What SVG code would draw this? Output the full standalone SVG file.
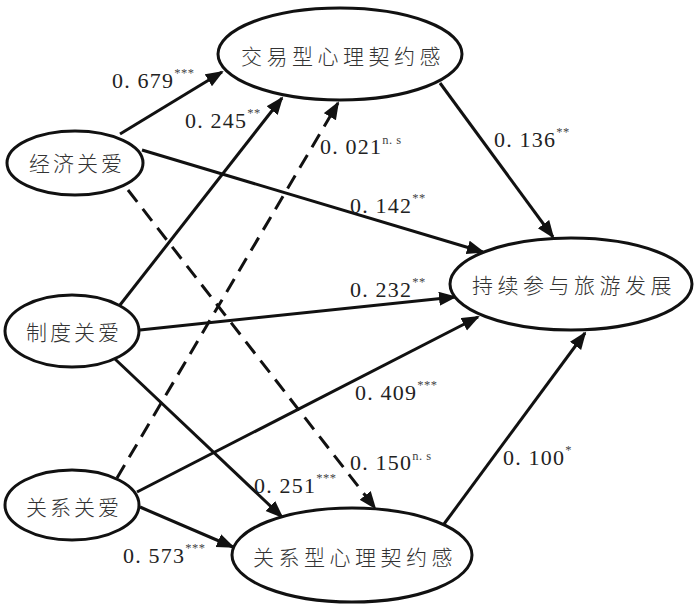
<svg xmlns="http://www.w3.org/2000/svg" width="700" height="612" viewBox="0 0 700 612">
<defs>
<marker id="ah" markerUnits="userSpaceOnUse" markerWidth="20" markerHeight="16" refX="16" refY="7" orient="auto">
<path d="M0,0 L18,7 L0,14 z" fill="#111"/>
</marker>
<style>
.node ellipse{fill:#fff;stroke:#111;stroke-width:3}
.node text{font-family:"Noto Sans CJK SC","Noto Sans CJK JP",sans-serif;font-size:21px;fill:#333;text-anchor:middle;font-weight:300}
.c{stroke:#111;stroke-width:3;fill:none}
.d{stroke-dasharray:15 9}
.lbl{font-family:"Liberation Serif","Times New Roman",serif;font-size:22px;fill:#222;letter-spacing:1.2px}
.sup{font-size:12.5px;fill:#444;letter-spacing:0.5px}
</style>
</defs>
<rect width="700" height="612" fill="#fff"/>
<g id="connectors">
<line class="c" x1="120" y1="134" x2="222" y2="72" marker-end="url(#ah)"/>
<line class="c" x1="120" y1="305" x2="282" y2="98" marker-end="url(#ah)"/>
<line class="c d" x1="117" y1="478" x2="338" y2="103" marker-end="url(#ah)"/>
<line class="c d" x1="128" y1="190" x2="375" y2="508" marker-end="url(#ah)"/>
<line class="c" x1="142" y1="150" x2="483" y2="252" marker-end="url(#ah)"/>
<line class="c" x1="140" y1="330" x2="455" y2="297" marker-end="url(#ah)"/>
<line class="c" x1="137" y1="492" x2="478" y2="317" marker-end="url(#ah)"/>
<line class="c" x1="115" y1="359" x2="282" y2="517" marker-end="url(#ah)"/>
<line class="c" x1="140" y1="507" x2="233" y2="547" marker-end="url(#ah)"/>
<line class="c" x1="440" y1="83" x2="553" y2="237" marker-end="url(#ah)"/>
<line class="c" x1="444" y1="524" x2="585" y2="333" marker-end="url(#ah)"/>
</g>
<g id="labels">
<text class="lbl" x="112" y="88">0. 679<tspan class="sup" dy="-11">***</tspan></text>
<text class="lbl" x="185" y="128">0. 245<tspan class="sup" dy="-11">**</tspan></text>
<text class="lbl" x="320" y="154">0. 021<tspan class="sup" dy="-10">n. s</tspan></text>
<text class="lbl" x="494" y="147">0. 136<tspan class="sup" dy="-11">**</tspan></text>
<text class="lbl" x="350" y="213">0. 142<tspan class="sup" dy="-11">**</tspan></text>
<text class="lbl" x="350" y="297">0. 232<tspan class="sup" dy="-11">**</tspan></text>
<text class="lbl" x="355" y="400">0. 409<tspan class="sup" dy="-11">***</tspan></text>
<text class="lbl" x="350" y="470">0. 150<tspan class="sup" dy="-10">n. s</tspan></text>
<text class="lbl" x="254" y="493">0. 251<tspan class="sup" dy="-11">***</tspan></text>
<text class="lbl" x="503" y="465">0. 100<tspan class="sup" dy="-11">*</tspan></text>
<text class="lbl" x="123" y="563">0. 573<tspan class="sup" dy="-11">***</tspan></text>
</g>
<g id="n-transactional" class="node">
<ellipse cx="340" cy="54" rx="122" ry="46"/>
<text x="343" y="64" letter-spacing="4.5">交易型心理契约感</text>
</g>
<g id="n-economic" class="node">
<ellipse cx="75" cy="163" rx="68" ry="32"/>
<text x="77" y="171" letter-spacing="3">经济关爱</text>
</g>
<g id="n-institutional" class="node">
<ellipse cx="72" cy="331" rx="67" ry="36"/>
<text x="74" y="340" letter-spacing="3">制度关爱</text>
</g>
<g id="n-relational-care" class="node">
<ellipse cx="72" cy="505" rx="67" ry="35"/>
<text x="74" y="515" letter-spacing="3">关系关爱</text>
</g>
<g id="n-relational" class="node">
<ellipse cx="352" cy="555" rx="120" ry="47"/>
<text x="355" y="565" letter-spacing="4.5">关系型心理契约感</text>
</g>
<g id="n-sustain" class="node">
<ellipse cx="571" cy="284" rx="121" ry="46"/>
<text x="574" y="293" letter-spacing="4.5">持续参与旅游发展</text>
</g>
</svg>
